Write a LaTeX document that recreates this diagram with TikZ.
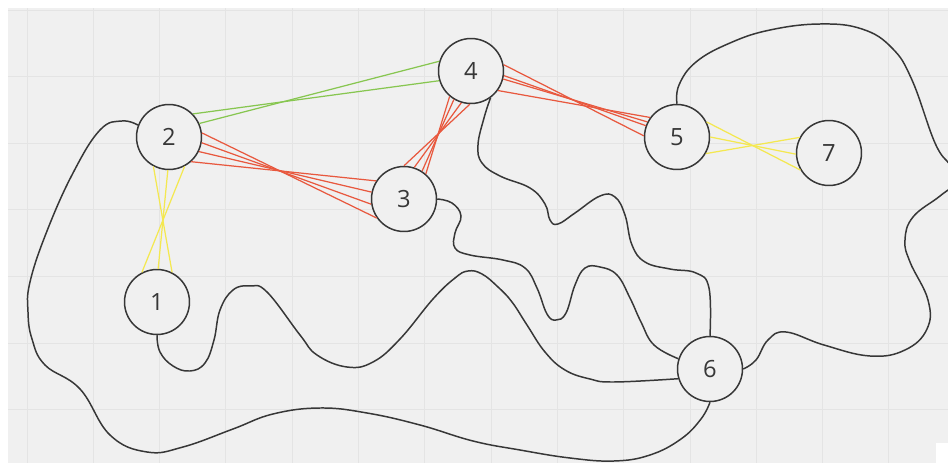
\documentclass[tikz,border=0pt]{standalone}
\usepackage{fontspec}
\setmainfont{Open Sans}
\definecolor{paper}{RGB}{240,240,240}
\definecolor{gridgray}{RGB}{228,228,228}
\definecolor{inkgray}{RGB}{55,55,55}
\definecolor{linkgreen}{RGB}{135,198,80}
\definecolor{linkred}{RGB}{232,88,62}
\definecolor{linkyellow}{RGB}{244,232,80}
\begin{document}
\begin{tikzpicture}[x=0.02cm,y=-0.02cm,
  vertex/.style={circle,draw=inkgray,fill=paper,line width=0.85pt,minimum size=1.3cm,inner sep=0pt,
    text=inkgray,font=\fontsize{13.5}{16}\selectfont},
  wire/.style={inkgray,line width=0.85pt},
  greenlink/.style={linkgreen,line width=0.7pt},
  redlink/.style={linkred,line width=0.7pt},
  yellowlink/.style={linkyellow,line width=0.7pt}]
\useasboundingbox (0,0) rectangle (948,463);
\clip (0,0) rectangle (948,463);
\fill[paper] (8,8) rectangle (948,463);
\foreach \i in {0,...,13} \draw[gridgray,line width=0.5pt] (27+66.3*\i,8) -- (27+66.3*\i,463); %grid
\foreach \j in {0,...,6} \draw[gridgray,line width=0.5pt] (8,10+66.6*\j) -- (948,10+66.6*\j);
\fill[white] (936,443) rectangle (948,463);

% circles first, bundles and curves are drawn up to their borders
\node[vertex] (n1) at (157,302) {1};
\node[vertex] (n2) at (169,137) {2};
\node[vertex] (n3) at (404,199) {3};
\node[vertex] (n4) at (471,71) {4};
\node[vertex] (n5) at (677,137) {5};
\node[vertex] (n6) at (710,369) {6};
\node[vertex] (n7) at (829,153) {7};

\foreach \a/\b in {44/197,24/163} \draw[greenlink] (n2.\a) -- (n4.\b);
\foreach \a/\b in {7/215,350/189,334/168,312/147} \draw[redlink] (n2.\a) -- (n3.\b);
\foreach \a/\b in {90/268,72/253,57/239,49/230} \draw[redlink] (n3.\a) -- (n4.\b);
\foreach \a/\b in {11/178,352/160,346/153,324/144} \draw[redlink] (n4.\a) -- (n5.\b);
\foreach \a/\b in {242/63,268/88,298/117} \draw[yellowlink] (n2.\a) -- (n1.\b);
\foreach \a/\b in {27/211,0/182,330/152} \draw[yellowlink] (n5.\a) -- (n7.\b);

% black curves
\draw[wire] plot[smooth,tension=0.7] coordinates {(n2.159) (122,121) (100,130)
  (73,173) (47,231) (30,282) (28,312) (32,339) (45,365) (80,389)
  (110,435) (147,452) (183,447) (233,429) (273,414) (320,408) (367,413) (420,425) (473,441)
  (520,450) (570,458) (614,461) (650,455) (681,439) (701,419) (n6.270)};
\draw[wire] plot[smooth,tension=0.7] coordinates {(n1.270) (160,352) (173,366) (190,371) (205,363)
  (214,340) (220,310) (233,290) (250,286) (267,292) (300,335) (317,355) (347,367)
  (373,362) (400,339) (433,299) (455,278) (468,271) (482,274) (498,287) (512,302) (527,325)
  (545,352) (565,370) (590,379) (614,382) (n6.197)};
\draw[wire] plot[smooth,tension=0.7] coordinates {(n3.0) (452,203) (461,216) (455,233)
  (455,248) (470,255) (503,260) (525,268) (537,288) (547,314) (556,320) (566,313)
  (575,285) (585,268) (600,267) (617,275) (630,298) (641,322) (654,345) (n6.162)};
\draw[wire] plot[smooth,tension=0.7] coordinates {(n4.306) (484,118) (478,145) (482,163)
  (500,176) (530,188) (545,204) (550,220) (558,224) (575,213) (600,196) (615,197)
  (625,215) (632,245) (645,262) (670,269) (696,273) (709,288) (n6.90)};
\draw[wire] plot[smooth,tension=0.7] coordinates {(n5.90) (679,85) (696,62) (730,43) (770,30)
  (820,24) (862,29) (892,48) (912,80) (935,143) (950,165) (958,180) (940,196)
  (913,217) (905,240) (910,262) (928,300) (927,329) (905,350) (870,356)
  (824,345) (786,332) (768,340) (756,360) (n6.0)};
\end{tikzpicture}
\end{document}
